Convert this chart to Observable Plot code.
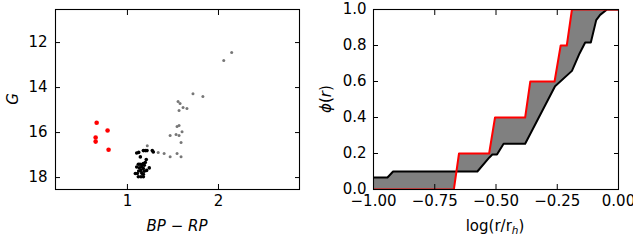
<!DOCTYPE html>
<html>
<head>
<meta charset="utf-8">
<script src="https://cdn.jsdelivr.net/npm/d3@7"></script>
<script src="https://cdn.jsdelivr.net/npm/@observablehq/plot@0.6"></script>
<style>
  html, body { margin: 0; padding: 0; background: #fff; }
  #wrap { position: relative; width: 633px; height: 248px; overflow: hidden; font-family: "DejaVu Sans", sans-serif; }
  #left, #right { position: absolute; top: 0; }
  #left { left: 0; }
  #right { left: 316px; }
</style>
</head>
<body>
<div id="wrap"><div id="left"></div><div id="right"></div></div>
<script>
// ---- Left panel data (colour–magnitude diagram) ----
const redBP = [0.662, 0.782, 0.651, 0.651, 0.793];
const redG  = [15.56, 15.91, 16.22, 16.40, 16.76];

const grayBP = [2.145, 2.058, 1.720, 1.829, 1.556, 1.578, 1.611, 1.654, 1.567, 1.545, 1.567,
                1.600, 1.469, 1.534, 1.567, 1.589, 1.218, 1.338, 1.403, 1.469, 1.545, 1.589];
const grayG  = [12.44, 12.80, 14.27, 14.40, 14.62, 14.71, 14.89, 14.93, 15.02, 15.73, 15.69,
                15.96, 16.13, 16.09, 16.13, 16.44, 16.58, 16.89, 16.93, 17.07, 16.93, 17.07];

const blackBP = [1.102, 1.124, 1.142, 1.175, 1.196, 1.215, 1.273, 1.284, 1.207, 1.196, 1.175,
                 1.120, 1.138, 1.157, 1.185, 1.102, 1.131, 1.157, 1.175, 1.240, 1.211, 1.185,
                 1.146, 1.124, 1.087, 1.109, 1.157, 1.175, 1.120, 1.149, 1.175];
const blackG  = [16.91, 16.88, 17.08, 16.80, 16.80, 16.80, 16.80, 16.86, 17.20, 17.33, 17.38,
                 17.41, 17.41, 17.42, 17.45, 17.53, 17.56, 17.53, 17.60, 17.57, 17.68, 17.72,
                 17.68, 17.71, 17.82, 17.82, 17.80, 17.85, 17.96, 17.96, 17.96];

const leftXTicks = [1, 2];
const leftYTicks = [12, 14, 16, 18];

// ---- Right panel data (cumulative radial distributions) ----
const blackLogR = [-1, -0.943, -0.920, -0.576, -0.527, -0.515, -0.496, -0.469, -0.381, -0.259,
                   -0.190, -0.159, -0.136, -0.113, -0.091, -0.075, -0.047, 0];
const blackPhi  = [0.067, 0.067, 0.100, 0.100, 0.178, 0.194, 0.194, 0.254, 0.254, 0.574,
                   0.659, 0.756, 0.817, 0.817, 0.941, 0.970, 1.000, 1.000];

const redLogR = [-1, -0.672, -0.651, -0.528, -0.504, -0.381, -0.360, -0.261, -0.236, -0.211, -0.190, 0];
const redPhi  = [0, 0, 0.2, 0.2, 0.4, 0.4, 0.6, 0.6, 0.8, 0.8, 1.0, 1.0];

const rightXTicks = [-1, -0.75, -0.5, -0.25, 0];
const rightYTicks = [0, 0.2, 0.4, 0.6, 0.8, 1.0];

// ---- build tables ----
const zip = (xs, ys) => xs.map((x, i) => ({x, y: ys[i]}));
const redPts = zip(redBP, redG);
const grayPts = zip(grayBP, grayG);
const blackPts = zip(blackBP, blackG);
const blackCurve = zip(blackLogR, blackPhi);
const redCurve = zip(redLogR, redPhi);
const band = [...blackCurve, ...redCurve.slice().reverse()];

const FONT = "DejaVu Sans";
const FS = 15;
const common = {
  height: 248,
  marginTop: 9,
  marginBottom: 59,
  style: {fontFamily: FONT, fontSize: FS + "px", color: "black", background: "white", overflow: "hidden"}
};

function tickMarks(xTicks, yTicks, fmtX, fmtY, padY) {
  return [
    Plot.axisX(xTicks, {anchor: "bottom", tickSize: -5, fill: "none", label: null}),
    Plot.axisX(xTicks, {anchor: "top", tickSize: -5, fill: "none", label: null}),
    Plot.axisY(yTicks, {anchor: "left", tickSize: -5, fill: "none", label: null}),
    Plot.axisY(yTicks, {anchor: "right", tickSize: -5, fill: "none", label: null}),
    Plot.axisX(xTicks, {anchor: "bottom", tickSize: 0, tickPadding: 6, stroke: "none", label: null,
                        tickFormat: fmtX, fontSize: FS, fill: "black"}),
    Plot.axisY(yTicks, {anchor: "left", tickSize: 0, tickPadding: padY, stroke: "none", label: null,
                        tickFormat: fmtY, fontSize: FS, fill: "black"})
  ];
}

const left = Plot.plot({
  ...common,
  width: 316,
  marginLeft: 55,
  marginRight: 17,
  x: {domain: [0.21, 2.89]},
  y: {domain: [10.53, 18.53], reverse: true},
  marks: [
    Plot.dot(grayPts, {x: "x", y: "y", r: 1.5, fill: "#777", stroke: "none"}),
    Plot.dot(blackPts, {x: "x", y: "y", r: 1.8, fill: "black", stroke: "none"}),
    Plot.dot(redPts, {x: "x", y: "y", r: 2.3, fill: "red", stroke: "none"}),
    ...tickMarks(leftXTicks, leftYTicks, d => String(d), d => String(d), 8),
    Plot.frame({stroke: "black", strokeWidth: 1.1})
  ]
});
document.getElementById("left").appendChild(left);

const right = Plot.plot({
  ...common,
  width: 317,
  marginLeft: 57,
  marginRight: 15,
  x: {domain: [-1, 0]},
  y: {domain: [0, 1]},
  marks: [
    Plot.line(band, {x: "x", y: "y", fill: "#808080", stroke: "none", clip: true}),
    Plot.line(blackCurve, {x: "x", y: "y", stroke: "black", strokeWidth: 2, clip: true}),
    Plot.line(redCurve, {x: "x", y: "y", stroke: "red", strokeWidth: 2, clip: true}),
    ...tickMarks(rightXTicks, rightYTicks, d3.format(".2f"), d3.format(".1f"), 7),
    Plot.frame({stroke: "black", strokeWidth: 1.1})
  ]
});
document.getElementById("right").appendChild(right);

// ---- axis titles ----
function addText(svg, x, y, rotate, parts) {
  const t = d3.select(svg).append("text")
    .attr("transform", `translate(${x},${y})` + (rotate ? ` rotate(${rotate})` : ""))
    .attr("text-anchor", "middle")
    .attr("font-family", FONT)
    .attr("font-size", FS)
    .attr("fill", "black");
  for (const p of parts) {
    const s = t.append("tspan").text(p.t);
    if (p.italic) s.attr("font-style", "italic");
    if (p.size) s.attr("font-size", p.size);
    if (p.dy) s.attr("dy", p.dy);
  }
}
addText(left, 18, 99, -90, [{t: "G", italic: true}]);
addText(left, 177, 231, 0, [{t: "BP", italic: true}, {t: " − "}, {t: "RP", italic: true}]);
addText(right, 331 - 316, 99, -90, [{t: "ϕ", italic: true}, {t: "("}, {t: "r", italic: true}, {t: ")"}]);
addText(right, 495 - 316, 231, 0, [{t: "log(r/r"}, {t: "h", italic: true, size: 10.5, dy: 3}, {t: ")", dy: -3}]);
</script>
</body>
</html>
